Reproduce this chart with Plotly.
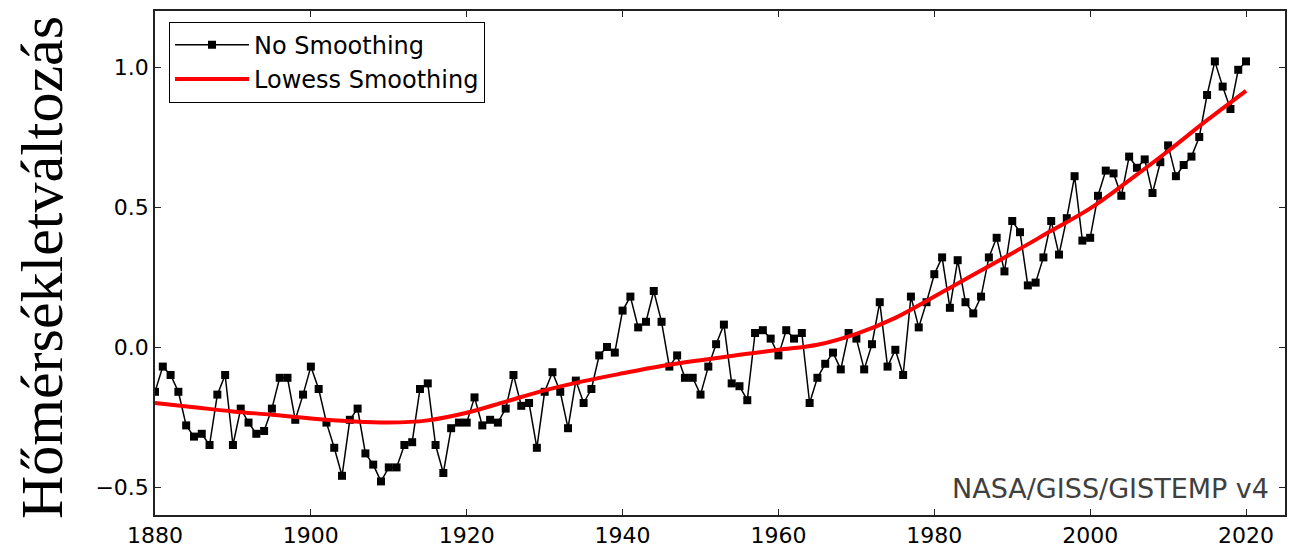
import plotly.graph_objects as go

years = list(range(1880, 2021))
anomaly = [
    -0.16, -0.07, -0.10, -0.16, -0.28, -0.32, -0.31, -0.35, -0.17, -0.10,  # 1880s
    -0.35, -0.22, -0.27, -0.31, -0.30, -0.22, -0.11, -0.11, -0.26, -0.17,  # 1890s
    -0.07, -0.15, -0.27, -0.36, -0.46, -0.26, -0.22, -0.38, -0.42, -0.48,  # 1900s
    -0.43, -0.43, -0.35, -0.34, -0.15, -0.13, -0.35, -0.45, -0.29, -0.27,  # 1910s
    -0.27, -0.18, -0.28, -0.26, -0.27, -0.22, -0.10, -0.21, -0.20, -0.36,  # 1920s
    -0.16, -0.09, -0.16, -0.29, -0.12, -0.20, -0.15, -0.03, 0.00, -0.02,   # 1930s
    0.13, 0.18, 0.07, 0.09, 0.20, 0.09, -0.07, -0.03, -0.11, -0.11,        # 1940s
    -0.17, -0.07, 0.01, 0.08, -0.13, -0.14, -0.19, 0.05, 0.06, 0.03,       # 1950s
    -0.03, 0.06, 0.03, 0.05, -0.20, -0.11, -0.06, -0.02, -0.08, 0.05,      # 1960s
    0.03, -0.08, 0.01, 0.16, -0.07, -0.01, -0.10, 0.18, 0.07, 0.16,        # 1970s
    0.26, 0.32, 0.14, 0.31, 0.16, 0.12, 0.18, 0.32, 0.39, 0.27,            # 1980s
    0.45, 0.41, 0.22, 0.23, 0.32, 0.45, 0.33, 0.46, 0.61, 0.38,            # 1990s
    0.39, 0.54, 0.63, 0.62, 0.54, 0.68, 0.64, 0.67, 0.55, 0.66,            # 2000s
    0.72, 0.61, 0.65, 0.68, 0.75, 0.90, 1.02, 0.93, 0.85, 0.99,            # 2010s
    1.02,                                                                  # 2020
]

lowess_years = list(range(1880, 2021, 5))
lowess_vals = [
    -0.200, -0.215, -0.230, -0.242, -0.255, -0.265, -0.270, -0.262, -0.235,
    -0.195, -0.155, -0.122, -0.094, -0.068, -0.047, -0.028, -0.010, 0.008,
    0.047, 0.104, 0.180, 0.258, 0.335, 0.415, 0.495, 0.595, 0.700, 0.810, 0.915,
]

x_ticks = [1880, 1900, 1920, 1940, 1960, 1980, 2000, 2020]
y_ticks = [-0.5, 0.0, 0.5, 1.0]
y_tick_text = ["\u22120.5", "0.0", "0.5", "1.0"]

fig = go.Figure()
fig.add_trace(go.Scatter(
    x=years, y=anomaly, mode="lines+markers", name="No Smoothing",
    line=dict(color="black", width=1.5),
    marker=dict(symbol="square", size=8, color="black"),
))
fig.add_trace(go.Scatter(
    x=lowess_years, y=lowess_vals, mode="lines", name="Lowess Smoothing",
    line=dict(color="#ff0000", width=4, shape="spline", smoothing=1.0),
))

axis_common = dict(
    showgrid=False, zeroline=False, showline=True, linecolor="#222222",
    linewidth=1.5, mirror="ticks", ticks="inside", ticklen=6, tickwidth=1,
    tickcolor="#222222",
    tickfont=dict(family="DejaVu Sans", size=22, color="black"),
)

# page body has an 8px margin; compensate so the plot area lands at 155..1285 x 9..523
fig.update_layout(
    width=1298, height=541,
    margin=dict(l=147, r=21, t=1, b=26),
    paper_bgcolor="white", plot_bgcolor="white",
    xaxis=dict(range=[1880, 2025], tickvals=x_ticks, **axis_common),
    yaxis=dict(range=[-0.6, 1.2], tickvals=y_ticks, ticktext=y_tick_text,
               **axis_common),
    legend=dict(
        x=0.0124, y=0.979, xanchor="left", yanchor="top",
        bgcolor="white", bordercolor="black", borderwidth=1,
        font=dict(family="DejaVu Sans", size=24, color="black"),
        itemwidth=74,
    ),
    showlegend=True,
)

fig.add_annotation(
    text="Hőmérsékletváltozás", textangle=-90,
    xref="paper", yref="paper", x=-0.1, y=0.49,
    xanchor="center", yanchor="middle", showarrow=False,
    font=dict(family="Liberation Serif", size=60, color="black"),
)
fig.add_annotation(
    text="NASA/GISS/GISTEMP v4",
    xref="paper", yref="paper", x=0.9876, y=0.0525,
    xanchor="right", yanchor="middle", showarrow=False,
    font=dict(family="DejaVu Sans", size=27, color="#404040"),
)

fig.write_html("out.html")
